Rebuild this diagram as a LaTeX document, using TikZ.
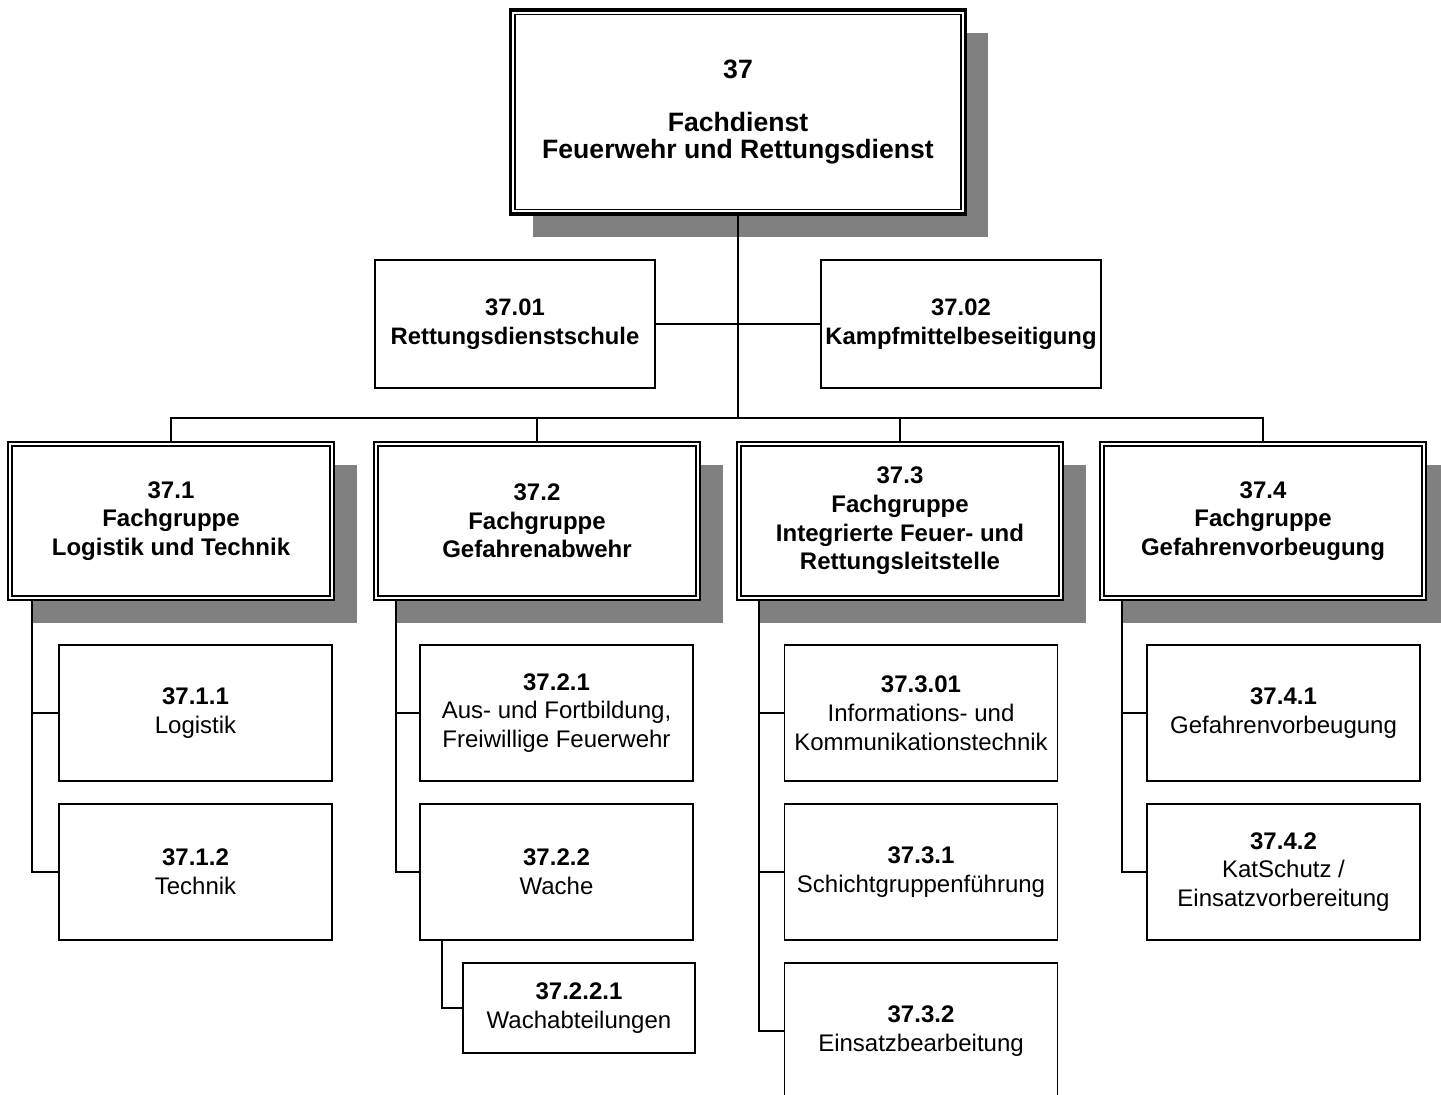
\documentclass[tikz,border=0pt]{standalone}
\usepackage{fontspec}
\setmainfont{Liberation Sans}
\usetikzlibrary{shadows,calc}
\definecolor{shadowgray}{HTML}{808080}
\begin{document}
\begin{tikzpicture}[x=0.5pt,y=-0.5pt,
  box/.style={draw=black, line width=0.85pt, fill=white, align=center, inner sep=1pt,
    font=\fontsize{12}{14.4}\selectfont},
  childbox/.style={box, minimum width=136.5pt, minimum height=68pt},
  staffbox/.style={box, minimum width=140pt, minimum height=64pt, font=\fontsize{11.9}{14.4}\selectfont\bfseries},
  grpbox/.style={box, line width=1pt, minimum width=163pt, minimum height=79pt,
    font=\fontsize{12}{14.3}\selectfont\bfseries,
    drop shadow={shadow xshift=11.5pt, shadow yshift=-11.5pt, fill=shadowgray, opacity=1}},
  topbox/.style={box, line width=1.6pt, minimum width=227.5pt, minimum height=102pt,
    font=\fontsize{13.3}{13.5}\selectfont\bfseries,
    drop shadow={shadow xshift=11pt, shadow yshift=-11.5pt, fill=shadowgray, opacity=1}},
  conn/.style={line width=0.95pt},
  innerline/.style={line width=0.8pt}
]
\useasboundingbox (0,0) rectangle (1441,1094);
\clip (0,0) rectangle (1441,1094);

% top
\node[topbox] (top) at (738,112) {37\\[13pt]Fachdienst\\Feuerwehr und Rettungsdienst};
\draw[innerline] ([xshift=3pt,yshift=-3pt]top.north west) rectangle ([xshift=-3pt,yshift=3pt]top.south east);

% staff
\node[staffbox] (s1) at (515,324) {37.01\\Rettungsdienstschule};
\node[staffbox] (s2) at (961,324) {37.02\\Kampfmittelbeseitigung};

% groups
\node[grpbox] (g1) at (171,521) {37.1\\Fachgruppe\\Logistik und Technik};
\node[grpbox] (g2) at (537,521) {37.2\\Fachgruppe\\Gefahrenabwehr};
\node[grpbox] (g3) at (900,521) {37.3\\Fachgruppe\\Integrierte Feuer- und\\Rettungsleitstelle};
\node[grpbox] (g4) at (1263,521) {37.4\\Fachgruppe\\Gefahrenvorbeugung};
\foreach \g in {g1,g2,g3,g4}{
  \draw[innerline] ([xshift=2.4pt,yshift=-2.4pt]\g.north west) rectangle ([xshift=-2.4pt,yshift=2.4pt]\g.south east);
}

% children
\node[childbox] (c11) at (195.5,713) {\textbf{37.1.1}\\Logistik};
\node[childbox] (c12) at (195.5,872) {\textbf{37.1.2}\\Technik};
\node[childbox] (c21) at (556.5,713) {\textbf{37.2.1}\\Aus- und Fortbildung,\\Freiwillige Feuerwehr};
\node[childbox] (c22) at (556.5,872) {\textbf{37.2.2}\\Wache};
\node[box, minimum width=116pt, minimum height=45pt] (c221) at (579,1008) {\textbf{37.2.2.1}\\Wachabteilungen};
\node[childbox] (c31) at (921,713) {\textbf{37.3.01}\\Informations- und\\Kommunikationstechnik};
\node[childbox] (c32) at (921,872) {\textbf{37.3.1}\\Schichtgruppenführung};
\node[childbox] (c33) at (921,1031) {\textbf{37.3.2}\\Einsatzbearbeitung};
\node[childbox] (c41) at (1283.5,713) {\textbf{37.4.1}\\Gefahrenvorbeugung};
\node[childbox] (c42) at (1283.5,872) {\textbf{37.4.2}\\KatSchutz /\\Einsatzvorbereitung};

% connectors top level
\coordinate (bar) at (0,418);
\draw[conn] (top.south) -- (top.south |- bar);
\draw[conn] (s1.east) -- (s2.west);
\draw[conn] (g1.north) |- (g4.north |- bar) -- (g4.north);
\draw[conn] (g2.north) -- (g2.north |- bar);
\draw[conn] (g3.north) -- (g3.north |- bar);

% group to children
\coordinate (g1b) at ([xshift=12.5pt]g1.south west);
\coordinate (g2b) at ([xshift=11.5pt]g2.south west);
\coordinate (g3b) at ([xshift=11.5pt]g3.south west);
\coordinate (g4b) at ([xshift=11.5pt]g4.south west);
\coordinate (c22b) at ([xshift=11.5pt]c22.south west);
\draw[conn] (g1b) |- (c12.west);
\draw[conn] (c11.west) -- (c11.west -| g1b);
\draw[conn] (g2b) |- (c22.west);
\draw[conn] (c21.west) -- (c21.west -| g2b);
\draw[conn] (c22b) |- (c221.west);
\draw[conn] (g3b) |- (c33.west);
\draw[conn] (c31.west) -- (c31.west -| g3b);
\draw[conn] (c32.west) -- (c32.west -| g3b);
\draw[conn] (g4b) |- (c42.west);
\draw[conn] (c41.west) -- (c41.west -| g4b);
\end{tikzpicture}
\end{document}
